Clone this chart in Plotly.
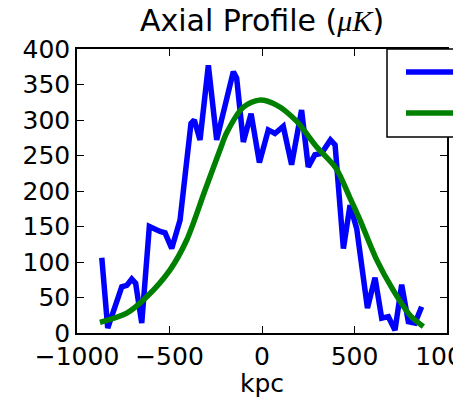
import plotly.graph_objects as go

# Measured axial brightness profile (blue) and smooth model (green)
x_profile = [-866, -834, -758, -731, -704, -683, -650, -609, -551, -524, -488, -443,
             -384, -366, -335, -290, -245, -155, -137, -101, -59, -14, 34, 70, 115,
             160, 214, 250, 286, 322, 370, 395, 440, 476, 512, 570, 611, 647, 683,
             719, 755, 791, 827, 863]
y_profile = [106, 7, 65, 67, 76, 70, 14, 150, 143, 141, 119, 159,
             295, 300, 272, 377, 272, 368, 359, 269, 309, 240, 286, 281, 291,
             237, 314, 234, 251, 253, 272, 265, 119, 180, 147, 35, 78, 21, 23,
             4, 68, 16, 14, 37]

x_model = [-876, -731, -623, -497, -407, -308, -227, -191, -101, -15, 79, 188,
           296, 400, 476, 530, 620, 710, 800, 872]
y_model = [15, 28, 51, 89, 131, 201, 258, 282, 318, 328, 321, 298,
           262, 232, 190, 159, 103, 60, 25, 9]

x_ticks = [-1000, -500, 0, 500, 1000]
y_ticks = [0, 50, 100, 150, 200, 250, 300, 350, 400]

W, H = 453, 398
ML, MR, MT, MB = 77, 6, 49, 65
FONT = "DejaVu Sans"

fig = go.Figure()
fig.add_trace(go.Scatter(x=x_profile, y=y_profile, mode="lines",
                         line=dict(color="#0000ff", width=5.5), showlegend=False))
fig.add_trace(go.Scatter(x=x_model, y=y_model, mode="lines",
                         line=dict(color="#008000", width=5.5, shape="spline", smoothing=0.8),
                         showlegend=False))

axis_common = dict(showgrid=False, zeroline=False, showline=True, linecolor="black",
                   linewidth=1.5, mirror="ticks", ticks="inside", ticklen=7,
                   tickwidth=1, tickcolor="black", ticklabeloverflow="allow",
                   automargin=False,
                   tickfont=dict(family=FONT, size=25, color="black"))

fig.update_xaxes(range=[-1000, 1000], tickvals=x_ticks,
                 title=dict(text="kpc", font=dict(family=FONT, size=25, color="black"), standoff=6),
                 **axis_common)
fig.update_yaxes(range=[0, 400], tickvals=y_ticks, **axis_common)

# Legend frame and sample lines (upper right, running past the figure edge)
pw = W - ML - MR
ph = H - MT - MB
def px_x(p):
    return (p - ML) / pw
def px_y(p):
    return (H - MB - p) / ph

fig.add_shape(type="rect", xref="paper", yref="paper",
              x0=px_x(387), x1=px_x(470), y0=px_y(137), y1=px_y(49),
              line=dict(color="black", width=1.5), fillcolor="white", layer="above")
fig.add_shape(type="line", xref="paper", yref="paper",
              x0=px_x(406), x1=px_x(470), y0=px_y(72), y1=px_y(72),
              line=dict(color="#0000ff", width=5.5), layer="above")
fig.add_shape(type="line", xref="paper", yref="paper",
              x0=px_x(406), x1=px_x(470), y0=px_y(113), y1=px_y(113),
              line=dict(color="#008000", width=5.5), layer="above")

fig.update_layout(
    width=W, height=H,
    margin=dict(l=ML, r=MR, t=MT, b=MB, autoexpand=False),
    paper_bgcolor="white", plot_bgcolor="white",
    title=dict(text="Axial Profile (<i><span style=\"font-family:'Liberation Serif'\">μK</span></i>)",
               x=(ML + pw / 2) / W, xanchor="center",
               y=1 - 10 / H, yanchor="top", yref="container",
               font=dict(family=FONT, size=30, color="black")),
    showlegend=False,
)

fig.write_html("out.html")
